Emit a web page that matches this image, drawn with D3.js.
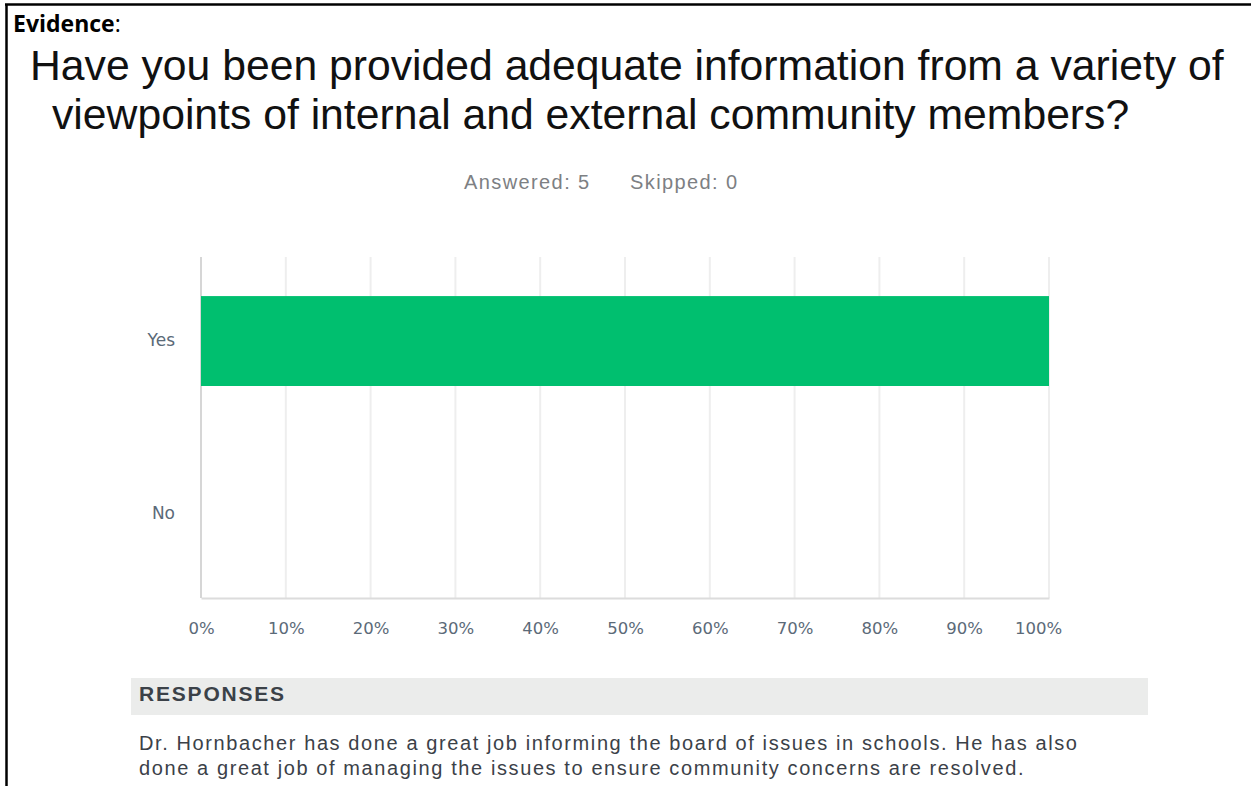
<!DOCTYPE html>
<html lang="en">
<head>
  <meta charset="utf-8">
  <script src="https://d3js.org/d3.v7.min.js"></script>
  <style>
    body { margin: 0; background: #fff; }
    svg { display: block; }
  </style>
</head>
<body>
  <script>
    // survey question data
    const categories = ["Yes", "No"];
    const percents = [100, 0];
    const tickValues = [0, 10, 20, 30, 40, 50, 60, 70, 80, 90, 100];
    const titleLines = [
      "Have you been provided adequate information from a variety of",
      "viewpoints of internal and external community members?"
    ];
    const responses = [
      "Dr. Hornbacher has done a great job informing the board of issues in schools. He has also",
      "done a great job of managing the issues to ensure community concerns are resolved."
    ];

    const w = 1251, h = 786;
    const svg = d3.select("body").append("svg")
                  .attr("width", w)
                  .attr("height", h);

    //page frame (top + left only)
    svg.append("line").attr("x1", 5).attr("x2", w).attr("y1", 4.5).attr("y2", 4.5)
       .attr("stroke", "#000").attr("stroke-width", 2.5);
    svg.append("line").attr("x1", 6.5).attr("x2", 6.5).attr("y1", 4).attr("y2", h)
       .attr("stroke", "#000").attr("stroke-width", 2.5);

    //Evidence: label
    const ev = svg.append("text").attr("x", 13).attr("y", 32)
                  .attr("font-family", "'Open Sans', sans-serif").attr("font-size", "23px");
    ev.append("tspan").attr("font-weight", "bold").text("Evidence");
    ev.append("tspan").text(":");

    //title
    const titleX = [30, 52];
    const titleY = [80, 129];
    svg.selectAll(".title")
       .data(titleLines)
       .enter()
       .append("text")
       .attr("class", "title")
       .attr("x", (d, i) => titleX[i])
       .attr("y", (d, i) => titleY[i])
       .attr("font-family", "'Liberation Sans', Arial, sans-serif")
       .attr("font-size", "42.7px")
       .attr("fill", "#111")
       .text(d => d);

    //answered / skipped
    const subStyle = sel => sel.attr("font-family", "'Liberation Sans', Arial, sans-serif")
                               .attr("font-size", "20px").attr("letter-spacing", "1.4px")
                               .attr("fill", "#7d8083");
    svg.append("text").attr("x", 464).attr("y", 189).call(subStyle).text("Answered: 5");
    svg.append("text").attr("x", 630).attr("y", 189).call(subStyle).text("Skipped: 0");

    //scales
    const plotLeft = 201, plotRight = 1049, plotTop = 257, plotBottom = 598;
    const xScale = d3.scaleLinear().domain([0, 100]).range([plotLeft, plotRight]);
    const yScale = d3.scaleBand().domain(categories).range([plotTop, plotBottom]).paddingInner(0.48).paddingOuter(0.226);

    //gridlines
    svg.append("g")
       .selectAll("line")
       .data(tickValues)
       .enter()
       .append("line")
       .attr("x1", d => xScale(d)).attr("x2", d => xScale(d))
       .attr("y1", plotTop).attr("y2", plotBottom)
       .attr("stroke", d => d === 0 ? "#d6d6d6" : "#eeeeee")
       .attr("stroke-width", 2);

    //bars
    svg.selectAll("rect.bar")
       .data(categories)
       .enter()
       .append("rect")
       .attr("class", "bar")
       .attr("x", xScale(0))
       .attr("y", d => yScale(d))
       .attr("width", (d, i) => xScale(percents[i]) - xScale(0))
       .attr("height", yScale.bandwidth())
       .attr("fill", "#00bf6f");

    //bottom axis
    const xAxis = d3.axisBottom(xScale)
                    .tickValues(tickValues)
                    .tickSize(0)
                    .tickPadding(24)
                    .tickFormat(d => d + "%");
    const gx = svg.append("g")
                  .attr("transform", "translate(0," + plotBottom + ")")
                  .call(xAxis);
    gx.select(".domain").attr("stroke", "#dcdcdc").attr("stroke-width", 2);
    gx.selectAll("text")
      .attr("font-family", "'DejaVu Sans', sans-serif")
      .attr("font-size", "16.5px")
      .attr("fill", "#5b6a78")
      .attr("dx", d => d === 100 ? -11 : 0);

    //left axis labels
    const yAxis = d3.axisLeft(yScale).tickSize(0).tickPadding(26);
    const gy = svg.append("g")
                  .attr("transform", "translate(" + plotLeft + ",0)")
                  .call(yAxis);
    gy.select(".domain").remove();
    gy.selectAll("text")
      .attr("font-family", "'DejaVu Sans', sans-serif")
      .attr("font-size", "17px")
      .attr("fill", "#5b6a78");

    //responses block
    svg.append("rect").attr("x", 131).attr("y", 678).attr("width", 1017).attr("height", 37)
       .attr("fill", "#ebeceb");
    svg.append("text").attr("x", 139).attr("y", 701)
       .attr("font-family", "'Liberation Sans', Arial, sans-serif")
       .attr("font-size", "21px").attr("font-weight", "bold").attr("letter-spacing", "1.8px")
       .attr("fill", "#3b4148")
       .text("RESPONSES");
    svg.selectAll(".resp")
       .data(responses)
       .enter()
       .append("text")
       .attr("class", "resp")
       .attr("x", 139)
       .attr("y", (d, i) => 750 + i * 25)
       .attr("font-family", "'Liberation Sans', Arial, sans-serif")
       .attr("font-size", "20px")
       .attr("letter-spacing", "1.6px")
       .attr("fill", "#3b4148")
       .text(d => d);
  </script>
</body>
</html>
